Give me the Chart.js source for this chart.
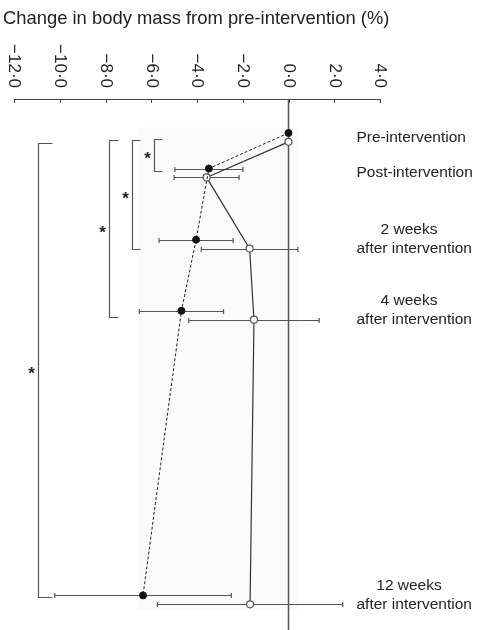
<!DOCTYPE html>
<html>
<head>
<meta charset="utf-8">
<script src="https://cdn.jsdelivr.net/npm/chart.js@4/dist/chart.umd.min.js"></script>
<style>
  html, body { margin: 0; padding: 0; background: #fff; }
  #wrap { width: 480px; height: 630px; }
</style>
</head>
<body>
<div id="wrap"><canvas id="chart" width="480" height="630"></canvas></div>
<script>
// Time points (weeks relative to end of intervention)
const weeks = [-1, 0, 2, 4, 12];
const timeLabels = [
    ['Pre-intervention'],
    ['Post-intervention'],
    ['2 weeks', 'after intervention'],
    ['4 weeks', 'after intervention'],
    ['12 weeks', 'after intervention']
];

// Group shown with filled markers / dashed line
const filledMean = [0.0, -3.48, -4.04, -4.68, -6.36];
const filledSD = [0, 1.49, 1.62, 1.84, 3.86];

// Group shown with open markers / solid line
const openMean = [0.0, -3.58, -1.70, -1.51, -1.68];
const openSD = [0, 1.42, 2.11, 2.85, 4.05];

// Axis ticks
const tickValues = [-12, -10, -8, -6, -4, -2, 0, 2, 4];
const tickLabels = ['\u221212\u00b70', '\u221210\u00b70', '\u22128\u00b70', '\u22126\u00b70', '\u22124\u00b70', '\u22122\u00b70', '0\u00b70', '2\u00b70', '4\u00b70'];

// Significance brackets: x position (% change), top and bottom (weeks)
const brackets = [
    { x: -5.86, top: -0.82, bottom: 0.07, arm: 8 },
    { x: -6.85, top: -0.80, bottom: 2.25, arm: 8 },
    { x: -7.85, top: -0.80, bottom: 4.17, arm: 9 },
    { x: -10.96, top: -0.71, bottom: 12.04, arm: 14 }
];

const titleText = 'Change in body mass from pre-intervention (%)';
const FONT = '"Liberation Sans", Arial, Helvetica, sans-serif';
const OPEN_SHIFT = 0.25; // vertical dodge for the second group

const filledPoints = weeks.map((w, i) => ({ x: filledMean[i], y: w }));
const openPoints = weeks.map((w, i) => ({ x: openMean[i], y: w + OPEN_SHIFT }));

// Custom drawing: shading, axis, error bars, brackets, labels
const decorations = {
    id: 'decorations',
    beforeDatasetsDraw(chart) {
        const { ctx, scales: { x, y } } = chart;
        ctx.save();

        // faint background panel
        ctx.fillStyle = '#fafafa';
        const sx0 = x.getPixelForValue(-6.6), sx1 = x.getPixelForValue(0.45);
        const sy0 = y.getPixelForValue(-1.15), sy1 = y.getPixelForValue(12.4);
        ctx.fillRect(sx0, sy0, sx1 - sx0, sy1 - sy0);

        // top axis line with inward ticks
        const axisY = chart.chartArea.top;
        ctx.strokeStyle = '#444';
        ctx.lineWidth = 1;
        ctx.beginPath();
        ctx.moveTo(x.getPixelForValue(-12), axisY + 0.5);
        ctx.lineTo(x.getPixelForValue(4), axisY + 0.5);
        tickValues.forEach(v => {
            const px = Math.round(x.getPixelForValue(v)) + 0.5;
            ctx.moveTo(px, axisY);
            ctx.lineTo(px, axisY + 4);
        });
        ctx.stroke();

        // zero line
        ctx.strokeStyle = '#555';
        ctx.lineWidth = 1.5;
        ctx.beginPath();
        ctx.moveTo(x.getPixelForValue(0), axisY);
        ctx.lineTo(x.getPixelForValue(0), chart.height);
        ctx.stroke();

        // rotated tick labels
        ctx.fillStyle = '#222';
        ctx.font = '17px ' + FONT;
        tickValues.forEach((v, i) => {
            ctx.save();
            ctx.translate(x.getPixelForValue(v), axisY - 11);
            ctx.rotate(Math.PI / 2);
            ctx.textAlign = 'right';
            ctx.textBaseline = 'middle';
            ctx.fillText(tickLabels[i], 0, 0);
            ctx.restore();
        });

        // error bars
        ctx.strokeStyle = '#555';
        ctx.lineWidth = 1.2;
        const drawBar = (mean, sd, wk) => {
            if (!sd) return;
            const py = Math.round(y.getPixelForValue(wk)) + 0.5;
            const a = x.getPixelForValue(mean - sd), b = x.getPixelForValue(mean + sd);
            ctx.beginPath();
            ctx.moveTo(a, py); ctx.lineTo(b, py);
            ctx.moveTo(a, py - 2.5); ctx.lineTo(a, py + 2.5);
            ctx.moveTo(b, py - 2.5); ctx.lineTo(b, py + 2.5);
            ctx.stroke();
        };
        weeks.forEach((w, i) => {
            drawBar(filledMean[i], filledSD[i], w);
            drawBar(openMean[i], openSD[i], w + OPEN_SHIFT);
        });
        ctx.restore();
    },
    afterDraw(chart) {
        const { ctx, scales: { x, y } } = chart;
        ctx.save();

        // title
        ctx.fillStyle = '#222';
        ctx.font = '18.4px ' + FONT;
        ctx.textAlign = 'left';
        ctx.textBaseline = 'alphabetic';
        ctx.fillText(titleText, 3, 24);

        // brackets and stars
        ctx.strokeStyle = '#555';
        ctx.lineWidth = 1.2;
        ctx.font = 'bold 17px ' + FONT;
        ctx.textAlign = 'center';
        ctx.textBaseline = 'middle';
        brackets.forEach(b => {
            const bx = Math.round(x.getPixelForValue(b.x)) + 0.5;
            const t = Math.round(y.getPixelForValue(b.top)) + 0.5;
            const bt = Math.round(y.getPixelForValue(b.bottom)) + 0.5;
            ctx.beginPath();
            ctx.moveTo(bx + b.arm, t);
            ctx.lineTo(bx, t);
            ctx.lineTo(bx, bt);
            ctx.lineTo(bx + b.arm, bt);
            ctx.stroke();
            ctx.fillText('*', bx - 7, (t + bt) / 2 + 4);
        });

        // time point labels on the right
        ctx.font = '15.5px ' + FONT;
        ctx.textBaseline = 'middle';
        weeks.forEach((w, i) => {
            const lines = timeLabels[i];
            const mid = (y.getPixelForValue(w) + y.getPixelForValue(w + OPEN_SHIFT)) / 2;
            if (lines.length === 1) {
                ctx.textAlign = 'left';
                ctx.fillText(lines[0], 356.5, mid);
            } else {
                const base = y.getPixelForValue(w);
                ctx.textAlign = 'center';
                ctx.fillText(lines[0], 409, base - 10);
                ctx.textAlign = 'left';
                ctx.fillText(lines[1], 356.5, base + 9);
            }
        });
        ctx.restore();
    }
};

new Chart(document.getElementById('chart').getContext('2d'), {
    type: 'line',
    data: {
        datasets: [{
            label: 'Filled',
            data: filledPoints,
            borderColor: '#222',
            borderWidth: 1,
            borderDash: [3, 2],
            pointRadius: 3.5,
            pointBackgroundColor: '#111',
            pointBorderColor: '#111',
            pointBorderWidth: 1,
            tension: 0,
            clip: false
        }, {
            label: 'Open',
            data: openPoints,
            borderColor: '#333',
            borderWidth: 1.2,
            pointRadius: 3.5,
            pointBackgroundColor: '#fff',
            pointBorderColor: '#555',
            pointBorderWidth: 1.2,
            tension: 0,
            clip: false
        }]
    },
    options: {
        responsive: false,
        animation: false,
        layout: { padding: { left: 14, right: 100, top: 99, bottom: 0 } },
        plugins: {
            legend: { display: false },
            tooltip: { enabled: false },
            title: { display: false }
        },
        scales: {
            x: { type: 'linear', min: -12, max: 4, display: false },
            y: { type: 'linear', min: -1.955, max: 12.827, reverse: true, display: false }
        }
    },
    plugins: [decorations]
});
</script>
</body>
</html>
